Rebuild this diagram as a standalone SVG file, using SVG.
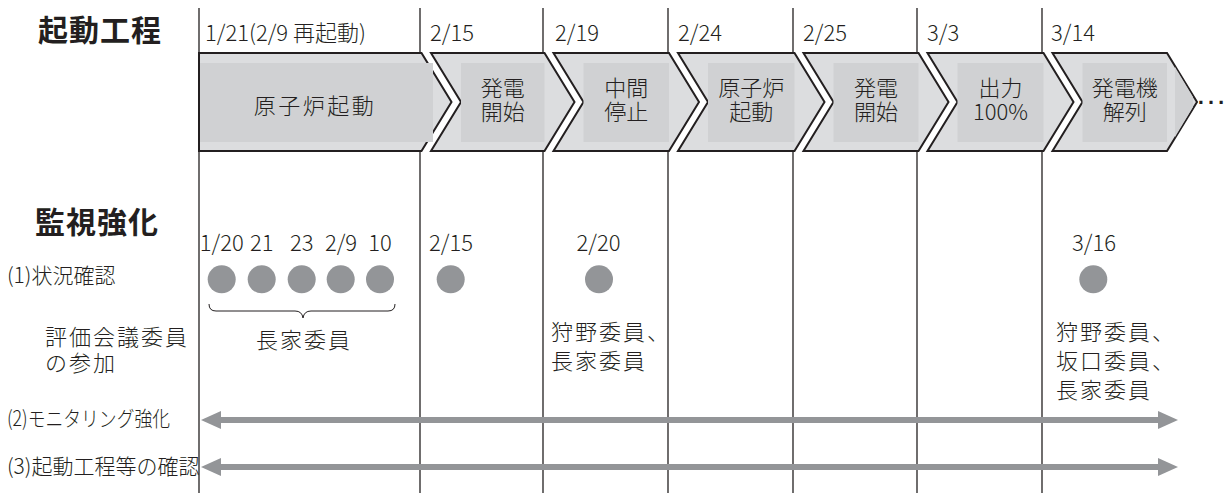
<svg xmlns="http://www.w3.org/2000/svg" width="1227" height="493" viewBox="0 0 1227 493">
<style>
text{font-family:"Noto Sans CJK JP","Noto Sans",sans-serif;fill:#231f20;font-weight:300;}
.h{font-size:30px;font-weight:bold;letter-spacing:1px;}
.d{font-size:22px;}
.c{font-size:22px;text-anchor:middle;}
.l{font-size:21px;}
.m{font-size:22px;letter-spacing:2px;}
.vl{stroke:#231f20;stroke-width:1.3;}
.chev{fill:#dcdddf;stroke:#231f20;stroke-width:2;stroke-linejoin:miter;}
.inner{fill:#d0d1d3;}
.dot{fill:#939598;}
.arr{stroke:#939598;stroke-width:6;fill:none;marker-start:url(#ah);marker-end:url(#ah);}
</style>
<defs>
<marker id="ah" viewBox="0 0 20 18" refX="10" refY="9" markerWidth="20" markerHeight="18" markerUnits="userSpaceOnUse" orient="auto-start-reverse">
<path d="M0,0 L20,9 L0,18 z" fill="#939598"/>
</marker>
</defs>
<rect width="1227" height="493" fill="#ffffff"/>

<g id="gridlines">
<line class="vl" x1="199" y1="8" x2="199" y2="493"/>
<line class="vl" x1="420" y1="8" x2="420" y2="493"/>
<line class="vl" x1="543" y1="8" x2="543" y2="493"/>
<line class="vl" x1="668" y1="8" x2="668" y2="493"/>
<line class="vl" x1="793" y1="8" x2="793" y2="493"/>
<line class="vl" x1="917" y1="8" x2="917" y2="493"/>
<line class="vl" x1="1042" y1="8" x2="1042" y2="493"/>
</g>

<g id="headings">
<text class="h" x="38" y="41">起動工程</text>
<text class="h" x="35" y="233">監視強化</text>
</g>

<g id="dates">
<text class="d" x="205" y="41">1/21(2/9 再起動)</text>
<text class="d" x="430" y="41">2/15</text>
<text class="d" x="555" y="41">2/19</text>
<text class="d" x="678" y="41">2/24</text>
<text class="d" x="803" y="41">2/25</text>
<text class="d" x="927" y="41">3/3</text>
<text class="d" x="1051" y="41">3/14</text>
</g>

<g id="step1">
<path class="chev" d="M199,53 L421.5,53 L451.5,102 L421.5,151 L199,151 Z"/>
<rect class="inner" x="200" y="63" width="233" height="79"/>
<text class="c" x="315" y="114" style="letter-spacing:2.5px">原子炉起動</text>
</g>
<g id="step2">
<path class="chev" d="M431,53 L544.5,53 L574.5,102 L544.5,151 L431,151 L461,102 Z"/>
<rect class="inner" x="461" y="63" width="83.5" height="79"/>
<text class="c" x="502.75" y="96">発電<tspan x="502.75" dy="24">開始</tspan></text>
</g>
<g id="step3">
<path class="chev" d="M553.5,53 L669,53 L699,102 L669,151 L553.5,151 L583.5,102 Z"/>
<rect class="inner" x="583.5" y="63" width="85.5" height="79"/>
<text class="c" x="626.25" y="96">中間<tspan x="626.25" dy="24">停止</tspan></text>
</g>
<g id="step4">
<path class="chev" d="M678,53 L794.5,53 L824.5,102 L794.5,151 L678,151 L708,102 Z"/>
<rect class="inner" x="708" y="63" width="86.5" height="79"/>
<text class="c" x="751.25" y="96">原子炉<tspan x="751.25" dy="24">起動</tspan></text>
</g>
<g id="step5">
<path class="chev" d="M803.5,53 L918.5,53 L948.5,102 L918.5,151 L803.5,151 L833.5,102 Z"/>
<rect class="inner" x="833.5" y="63" width="85" height="79"/>
<text class="c" x="876" y="96">発電<tspan x="876" dy="24">開始</tspan></text>
</g>
<g id="step6">
<path class="chev" d="M927.5,53 L1043.5,53 L1073.5,102 L1043.5,151 L927.5,151 L957.5,102 Z"/>
<rect class="inner" x="957.5" y="63" width="86" height="79"/>
<text class="c" x="1000.5" y="96">出力<tspan x="1000.5" dy="24">100%</tspan></text>
</g>
<g id="step7">
<path class="chev" d="M1052.5,53 L1167,53 L1197,102 L1167,151 L1052.5,151 L1082.5,102 Z"/>
<rect class="inner" x="1082.5" y="63" width="84.5" height="79"/>
<path class="inner" d="M1175,67 L1193,97 L1193,107 L1175,137 Z"/>
<text class="c" x="1124.75" y="96">発電機<tspan x="1124.75" dy="24">解列</tspan></text>
</g>
<text x="1195" y="104" style="font-family:'Liberation Sans',sans-serif;font-size:32px;">…</text>

<g id="row-labels">
<text class="l" x="7" y="283">(1)状況確認</text>
<text class="m" x="45" y="345">評価会議委員<tspan x="45" dy="26">の参加</tspan></text>
<text class="l" x="7" y="426" textLength="163" lengthAdjust="spacingAndGlyphs">(2)モニタリング強化</text>
<text class="l" x="7" y="474">(3)起動工程等の確認</text>
</g>

<g id="visits">
<text class="c" x="221.7" y="251">1/20</text>
<text class="c" x="261.7" y="251">21</text>
<text class="c" x="301.7" y="251">23</text>
<text class="c" x="341" y="251">2/9</text>
<text class="c" x="380" y="251">10</text>
<circle class="dot" cx="221.7" cy="279.3" r="14"/>
<circle class="dot" cx="261.7" cy="279.3" r="14"/>
<circle class="dot" cx="301.7" cy="279.3" r="14"/>
<circle class="dot" cx="340.7" cy="279.3" r="14"/>
<circle class="dot" cx="380" cy="279.3" r="14"/>
<path d="M209,304 Q209,311 216,311 L295,311 Q302,311 303,318 Q304,311 311,311 L388,311 Q395,311 395,304" fill="none" stroke="#231f20" stroke-width="1"/>
<text class="m" x="304" y="348" text-anchor="middle">長家委員</text>

<text class="c" x="451" y="251">2/15</text>
<circle class="dot" cx="450.7" cy="279.3" r="14"/>

<text class="c" x="598.5" y="251">2/20</text>
<circle class="dot" cx="599" cy="279.3" r="14"/>
<text class="m" x="551" y="340">狩野委員、<tspan x="551" dy="29">長家委員</tspan></text>

<text class="c" x="1094" y="251">3/16</text>
<circle class="dot" cx="1093.3" cy="279.3" r="14"/>
<text class="m" x="1056" y="340">狩野委員、<tspan x="1056" dy="29">坂口委員、</tspan><tspan x="1056" dy="29">長家委員</tspan></text>
</g>

<g id="connectors">
<line class="arr" x1="211" y1="420" x2="1168" y2="420"/>
<line class="arr" x1="211" y1="467" x2="1168" y2="467"/>
</g>
</svg>
